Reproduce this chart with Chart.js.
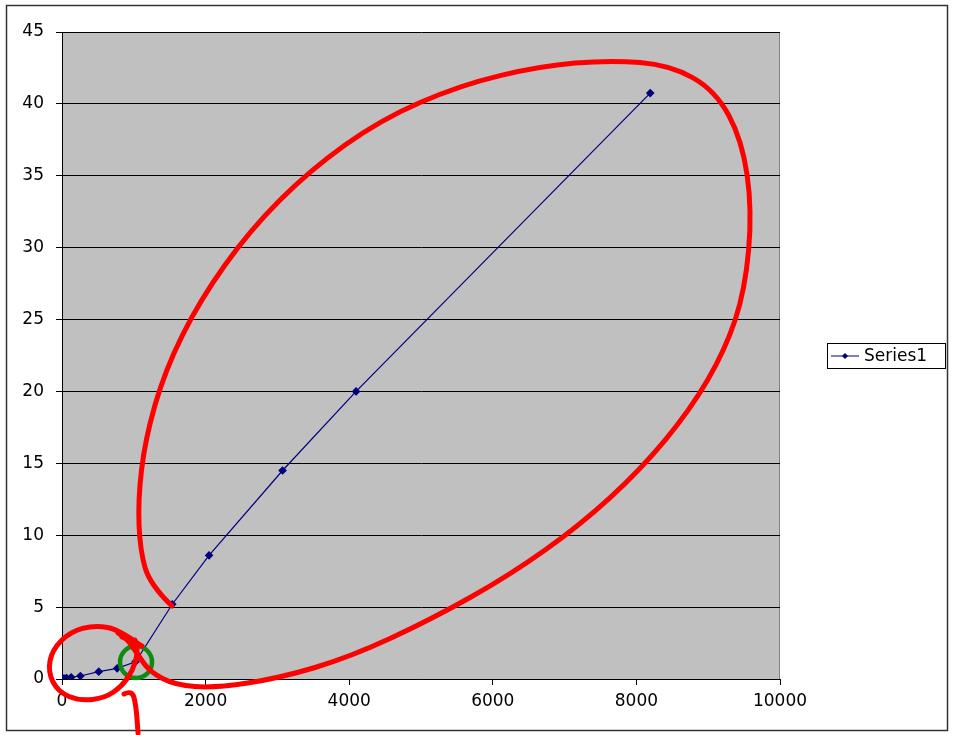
<!DOCTYPE html>
<html>
<head>
<meta charset="utf-8">
<script src="https://cdn.jsdelivr.net/npm/chart.js@4"></script>
<style>
  body { margin: 0; background: #fff; }
  #wrap { width: 956px; height: 735px; }
</style>
</head>
<body>
<div id="wrap"><canvas id="myChart" width="956" height="735"></canvas></div>
<script>
// series data
const xValues = [16, 32, 64, 128, 256, 512, 768, 1024, 1536, 2048, 3072, 4096, 8192]
const yValues = [0.02, 0.03, 0.07, 0.12, 0.21, 0.51, 0.74, 1.2, 5.2, 8.6, 14.5, 20.0, 40.75]
const seriesName = 'Series1'

// hand drawn marks on top of the chart, in data units
const bigLoop = [[1532,5.08],[1226,6.54],[1087,8.97],[1059,12.45],[1156,16.62],[1435,21.49],[1922,26.36],
  [2619,31.23],[3455,35.4],[4430,38.88],[5544,41.31],[6659,42.63],[7634,43.05],[8469,42.7],[9096,40.96],
  [9472,37.49],[9612,32.62],[9514,27.05],[9236,22.88],[8748,18.71],[8052,14.53],[7216,10.71],[6241,7.23],
  [5126,4.1],[4012,1.53],[3037,0.07],[2131,-0.63],[1574,-0.42],[1226,0.49],[1059,1.67],[920,2.71],[780,3.2]]
const smallLoop = [[1087,2.36],[808,3.41],[460,3.76],[111,3.27],[-139,2.02],[-195,0.49],[-56,-0.9],
  [251,-1.53],[599,-1.32],[836,-0.49],[989,0.63],[1059,1.88],[1017,2.71]]
const hookMark = [[836,2.92],[1114,2.3]]
const arrowMark = [[864,-1.04],[975,-0.77],[1031,-1.81],[1059,-3.76]]
const greenSpot = [1031, 1.18]

const points = xValues.map((x, i) => ({ x: x, y: yValues[i] }))

function toPx(chart, p) {
  return [chart.scales.x.getPixelForValue(p[0]), chart.scales.y.getPixelForValue(p[1])]
}

function stroke(ctx, chart, pts) {
  const p = pts.map(q => toPx(chart, q))
  ctx.beginPath()
  ctx.moveTo(p[0][0], p[0][1])
  for (let i = 1; i < p.length - 1; i++) {
    const mx = (p[i][0] + p[i + 1][0]) / 2
    const my = (p[i][1] + p[i + 1][1]) / 2
    ctx.quadraticCurveTo(p[i][0], p[i][1], mx, my)
  }
  ctx.lineTo(p[p.length - 1][0], p[p.length - 1][1])
  ctx.stroke()
}

const excelLook = {
  id: 'excelLook',
  beforeDraw(chart) {
    const ctx = chart.ctx
    const a = chart.chartArea
    ctx.save()
    ctx.fillStyle = '#fff'
    ctx.fillRect(0, 0, chart.width, chart.height)
    ctx.strokeStyle = '#333'
    ctx.lineWidth = 1.5
    ctx.strokeRect(6.5, 5.5, 941, 725)
    ctx.fillStyle = '#c0c0c0'
    ctx.fillRect(a.left, a.top, a.right - a.left, a.bottom - a.top)
    ctx.strokeStyle = '#808080'
    ctx.lineWidth = 1
    ctx.beginPath()
    ctx.moveTo(a.right - 0.5, a.top)
    ctx.lineTo(a.right - 0.5, a.bottom)
    ctx.stroke()
    ctx.restore()
  },
  afterDraw(chart) {
    const ctx = chart.ctx
    ctx.save()
    // legend
    const lx = 827, ly = 343
    ctx.strokeStyle = '#000'
    ctx.lineWidth = 1
    ctx.strokeRect(lx + 0.5, ly + 0.5, 118, 25)
    ctx.strokeStyle = '#000080'
    ctx.beginPath()
    ctx.moveTo(lx + 4, ly + 13)
    ctx.lineTo(lx + 32, ly + 13)
    ctx.stroke()
    ctx.fillStyle = '#000080'
    ctx.beginPath()
    ctx.moveTo(lx + 18, ly + 10)
    ctx.lineTo(lx + 21, ly + 13)
    ctx.lineTo(lx + 18, ly + 16)
    ctx.lineTo(lx + 15, ly + 13)
    ctx.closePath()
    ctx.fill()
    ctx.fillStyle = '#000'
    ctx.font = '17px "DejaVu Sans"'
    ctx.textBaseline = 'middle'
    ctx.fillText(seriesName, lx + 37, ly + 14)

    // annotations
    const c = toPx(chart, greenSpot)
    ctx.strokeStyle = '#118a11'
    ctx.lineWidth = 4.5
    ctx.beginPath()
    ctx.arc(c[0], c[1], 16, 0, Math.PI * 2)
    ctx.stroke()
    ctx.strokeStyle = '#ff0000'
    ctx.lineWidth = 5
    ctx.lineCap = 'round'
    ctx.lineJoin = 'round'
    stroke(ctx, chart, bigLoop)
    stroke(ctx, chart, smallLoop)
    stroke(ctx, chart, hookMark)
    stroke(ctx, chart, arrowMark)
    ctx.restore()
  }
}

const ctx = document.getElementById('myChart')
new Chart(ctx, {
  type: 'scatter',
  data: {
    datasets: [{
      label: seriesName,
      data: points,
      showLine: true,
      borderColor: '#000080',
      backgroundColor: '#000080',
      borderWidth: 1.2,
      pointStyle: 'rectRot',
      pointRadius: 3.5,
      pointHoverRadius: 3.5
    }]
  },
  options: {
    responsive: false,
    animation: false,
    devicePixelRatio: 1,
    layout: { padding: { left: 0, top: 32, right: 176, bottom: 0 } },
    plugins: { legend: { display: false }, tooltip: { enabled: false } },
    scales: {
      x: {
        type: 'linear',
        min: 0,
        max: 10000,
        ticks: {
          stepSize: 2000, color: '#000', font: { family: 'DejaVu Sans', size: 17 }, padding: 6, maxRotation: 0,
          callback: v => String(v)
        },
        grid: { drawOnChartArea: false, drawTicks: true, tickLength: 6, tickColor: '#000' },
        border: { color: '#000', width: 1 },
        afterFit(scale) { scale.height = 56 }
      },
      y: {
        min: 0,
        max: 45,
        ticks: { stepSize: 5, color: '#000', font: { family: 'DejaVu Sans', size: 17 }, padding: 12 },
        grid: { color: '#000', lineWidth: 1, drawTicks: true, tickLength: 6, tickColor: '#000' },
        border: { color: '#000', width: 1 },
        afterFit(scale) { scale.width = 62 }
      }
    }
  },
  plugins: [excelLook]
})
</script>
</body>
</html>
